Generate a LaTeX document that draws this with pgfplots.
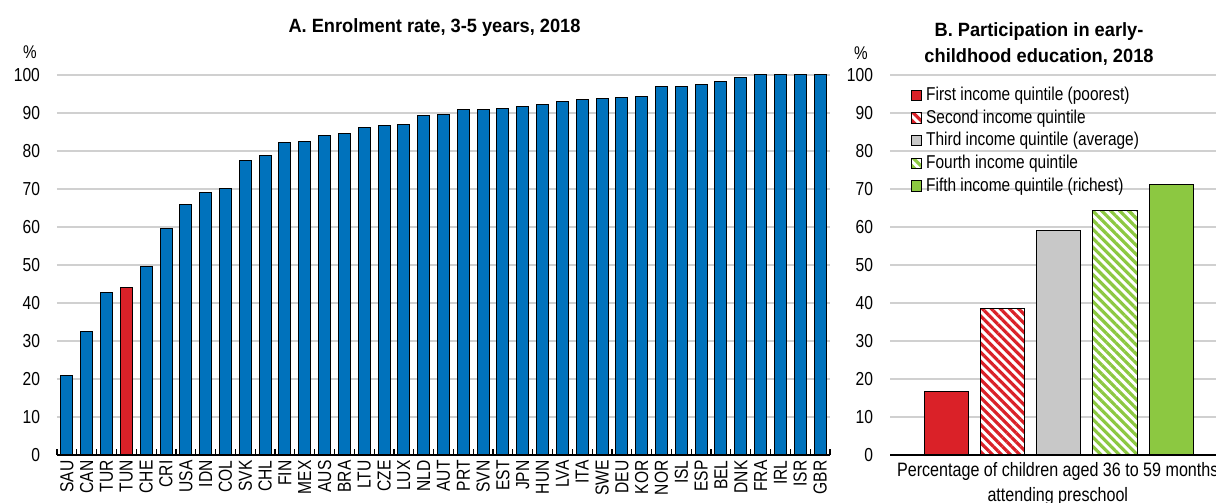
\documentclass[border=0pt]{standalone}
\usepackage{fontspec}
\setmainfont{Liberation Sans}
\newfontfamily\narrow[FakeStretch=0.83]{Liberation Sans}
\newfontfamily\titlefont[FakeStretch=0.95]{Liberation Sans}
\usepackage{pgfplots}
\usepackage{pgfplotstable}
\pgfplotsset{compat=1.18}
\usetikzlibrary{patterns.meta}

\definecolor{oblue}{HTML}{0072BC}
\definecolor{ored}{HTML}{DA2128}
\definecolor{ogrey}{HTML}{C8C8C8}
\definecolor{ogreen}{HTML}{8CC841}
\definecolor{ogrid}{HTML}{D0D0D0}

% panel A: enrolment rate 3-5 years
\pgfplotstableread{
idx cty val
0  SAU 20.8
1  CAN 32.6
2  TUR 42.7
3  TUN 44.2
4  CHE 49.6
5  CRI 59.6
6  USA 65.9
7  IDN 69.1
8  COL 70.2
9  SVK 77.5
10 CHL 78.9
11 FIN 82.2
12 MEX 82.4
13 AUS 84.0
14 BRA 84.6
15 LTU 86.1
16 CZE 86.7
17 LUX 87.1
18 NLD 89.3
19 AUT 89.6
20 PRT 91.0
21 SVN 91.0
22 EST 91.2
23 JPN 91.8
24 HUN 92.2
25 LVA 92.9
26 ITA 93.5
27 SWE 93.7
28 DEU 94.1
29 KOR 94.3
30 NOR 96.9
31 ISL 97.0
32 ESP 97.4
33 BEL 98.4
34 DNK 99.4
35 FRA 100
36 IRL 100
37 ISR 100
38 GBR 100
}\enrol

\pgfplotsset{
  oecd/.style={
    scale only axis,
    height=190pt,
    ymin=0, ymax=100,
    ytick={0,10,...,100},
    ymajorgrids,
    grid style={ogrid, line width=0.8pt},
    axis x line*=bottom,
    axis y line*=left,
    x axis line style={-, line width=0.8pt, black},
    y axis line style={draw=none},
    major y tick style={draw=none},
    major x tick style={draw=none},
    minor x tick style={black, line width=0.6pt},
    minor tick length=3pt,
    tick align=inside,
    /pgf/number format/assume math mode=true,
    yticklabel style={font=\narrow\fontsize{9.4}{11}\selectfont, xshift=-5pt},
  },
}

\begin{document}
\begin{tikzpicture}
\useasboundingbox (0,0) rectangle (608pt,251.5pt);

\begin{axis}[oecd,
  at={(28.5pt,24pt)}, anchor=south west,
  width=386.5pt,
  xmin=-0.5, xmax=38.5,
  xtick={0,...,38},
  xticklabels from table={\enrol}{cty},
  minor xtick={-0.5,0.5,...,38.5},
  xticklabel style={rotate=90, anchor=east, inner sep=0pt, xshift=-2.5pt, font=\narrow\fontsize{9.4}{11}\selectfont},
]
\addplot[ybar, bar shift=0pt, bar width=6pt, fill=oblue, draw=black, line width=0.5pt]
  table[x=idx, y=val] {\enrol};
\addplot[ybar, bar shift=0pt, bar width=6pt, fill=ored, draw=black, line width=0.5pt]
  coordinates {(3,44.2)};
\end{axis}

\node[font=\titlefont\bfseries\fontsize{9.6}{11}\selectfont] at (217.25pt,237.8pt) {A. Enrolment rate, 3-5 years, 2018};
\node[font=\narrow\fontsize{9.2}{11}\selectfont] at (15pt,225.5pt) {\%};

\begin{axis}[oecd,
  at={(445pt,24pt)}, anchor=south west,
  width=168.75pt,
  xmin=0, xmax=6,
  xtick=\empty,
  minor xtick={0,6},
  legend cell align=left,
  legend style={draw=none, fill=none, at={(0.055,0.985)}, anchor=north west,
    font=\narrow\fontsize{9.3}{10}\selectfont, row sep=-0.9pt, inner sep=1pt},
  legend image code/.code={\draw[#1, draw=black, line width=0.4pt] (0pt,-2.6pt) rectangle (5.2pt,2.6pt);},
]
\addplot[ybar, bar shift=0pt, bar width=22.2pt, fill=ored, draw=black, line width=0.5pt]
  coordinates {(1,16.8)};
\addplot[ybar, bar shift=0pt, bar width=22.2pt, fill=white, draw=black, line width=0.5pt,
  postaction={pattern={Lines[angle=-45, distance=3.2pt, line width=1.6pt]}, pattern color=ored}]
  coordinates {(2,38.5)};
\addplot[ybar, bar shift=0pt, bar width=22.2pt, fill=ogrey, draw=black, line width=0.5pt]
  coordinates {(3,59.1)};
\addplot[ybar, bar shift=0pt, bar width=22.2pt, fill=white, draw=black, line width=0.5pt,
  postaction={pattern={Lines[angle=-45, distance=3.2pt, line width=1.6pt]}, pattern color=ogreen}]
  coordinates {(4,64.4)};
\addplot[ybar, bar shift=0pt, bar width=22.2pt, fill=ogreen, draw=black, line width=0.5pt]
  coordinates {(5,71.3)};
\legend{First income quintile (poorest), Second income quintile, Third income quintile (average), Fourth income quintile, Fifth income quintile (richest)}
\end{axis}

\node[font=\titlefont\bfseries\fontsize{9.6}{13}\selectfont, align=center] at (519.5pt,229.5pt)
  {B. Participation in early-\\childhood education, 2018};
\node[font=\narrow\fontsize{9.2}{11}\selectfont] at (430.5pt,225pt) {\%};
\node[font=\narrow\fontsize{9.7}{12.6}\selectfont, align=center] at (528.9pt,9.4pt)
  {Percentage of children aged 36 to 59 months\\attending preschool};
\end{tikzpicture}
\end{document}
